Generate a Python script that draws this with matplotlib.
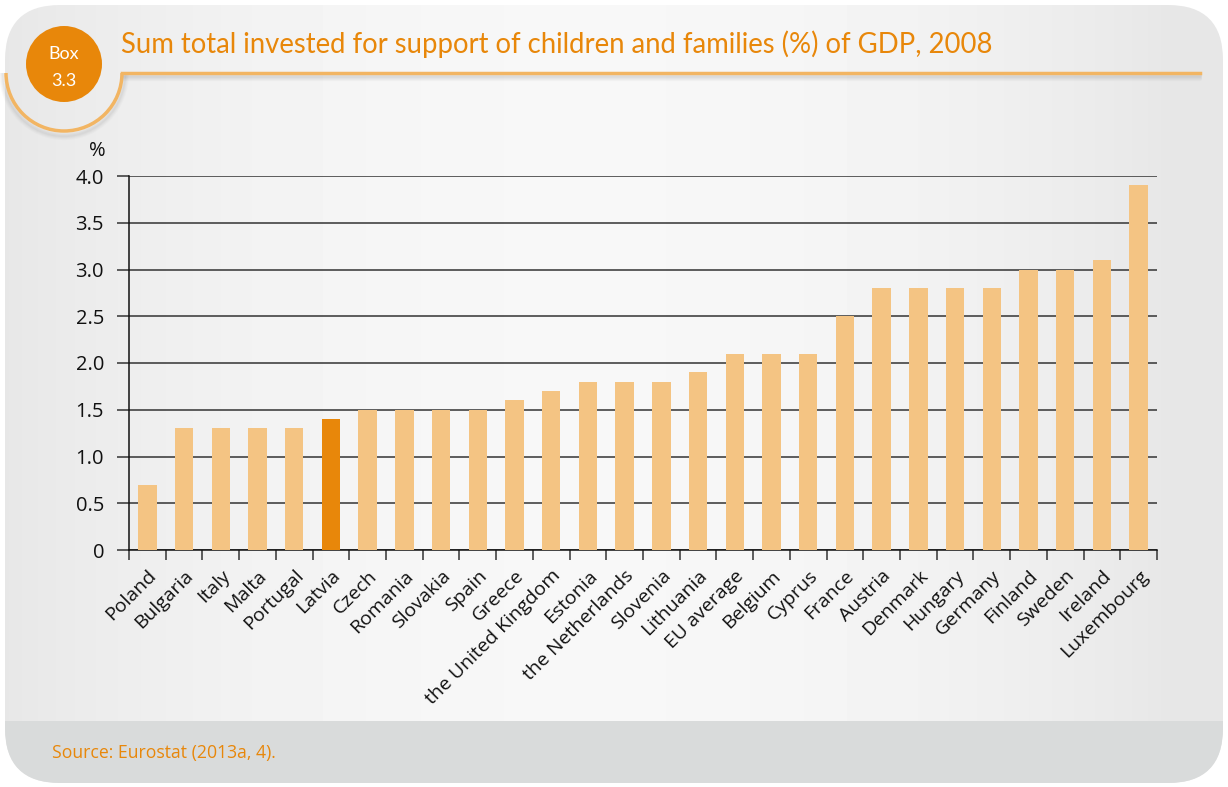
import numpy as np
import matplotlib
matplotlib.use("Agg")
import matplotlib.pyplot as plt
from matplotlib.patches import FancyBboxPatch, Circle, Arc, Rectangle

countries = ["Poland", "Bulgaria", "Italy", "Malta", "Portugal", "Latvia", "Czech",
             "Romania", "Slovakia", "Spain", "Greece", "the United Kingdom", "Estonia",
             "the Netherlands", "Slovenia", "Lithuania", "EU average", "Belgium", "Cyprus",
             "France", "Austria", "Denmark", "Hungary", "Germany", "Finland", "Sweden",
             "Ireland", "Luxembourg"]
values = [0.7, 1.3, 1.3, 1.3, 1.3, 1.4, 1.5, 1.5, 1.5, 1.5, 1.6, 1.7, 1.8, 1.8, 1.8,
          1.9, 2.1, 2.1, 2.1, 2.5, 2.8, 2.8, 2.8, 2.8, 3.0, 3.0, 3.1, 3.9]
highlight = "Latvia"
yticks = [0, 0.5, 1.0, 1.5, 2.0, 2.5, 3.0, 3.5, 4.0]
ytick_labels = ["0", "0.5", "1.0", "1.5", "2.0", "2.5", "3.0", "3.5", "4.0"]

title = "Sum total invested for support of children and families (%) of GDP, 2008"
source = "Source: Eurostat (2013a, 4)."

ORANGE = "#E8870A"
LIGHT = "#F4C483"
W, H = 1228, 787

fig = plt.figure(figsize=(W / 100, H / 100), dpi=100)
fig.patch.set_facecolor("white")

# background card drawn in pixel coordinates
bg = fig.add_axes([0, 0, 1, 1])
bg.set_xlim(0, W)
bg.set_ylim(H, 0)
bg.axis("off")

card = FancyBboxPatch((5, 5), 1218, 778, boxstyle="round,pad=0,rounding_size=55",
                      facecolor="none", edgecolor="none")
bg.add_patch(card)
xs = np.linspace(0, 1, 400)
grad = 0.905 + 0.065 * np.sin(np.pi * np.clip(xs * 1.05, 0, 1)) ** 0.8
img = np.tile(grad, (10, 1))
im = bg.imshow(img, cmap="gray", vmin=0, vmax=1, extent=(5, 1223, 783, 5),
               aspect="auto", zorder=0, interpolation="bilinear")
im.set_clip_path(card)
footer = Rectangle((0, 721), W, 70, facecolor="#d9dbdb", edgecolor="none", zorder=1)
bg.add_patch(footer)
footer.set_clip_path(card)

# header line with soft shadow
for k, a in enumerate([0.05, 0.05, 0.06, 0.07, 0.08]):
    bg.plot([122, 1200], [74 + 5 - k, 74 + 5 - k], color="#888888", lw=3, alpha=a,
            solid_capstyle="round", zorder=2)
bg.plot([122, 1200], [73, 73], color="#F2B563", lw=2.5, zorder=3)

# halo arc around the box badge
for k, a in enumerate([0.04, 0.05, 0.06, 0.07]):
    bg.add_patch(Arc((64, 73), 118 + 2 * (4 - k), 118 + 2 * (4 - k) + 4, theta1=0,
                     theta2=180, color="#888888", lw=3, alpha=a, zorder=2))
bg.add_patch(Arc((64, 73), 116, 116, theta1=0, theta2=180, color="#F2B563", lw=2.5,
                 zorder=3))
bg.add_patch(Circle((64, 64), 38, facecolor=ORANGE, edgecolor="none", zorder=4))
bg.text(64, 54, "Box", ha="center", va="center", color="white", fontsize=13,
        family="Lato", zorder=5)
bg.text(64, 81, "3.3", ha="center", va="center", color="white", fontsize=13,
        family="Lato", zorder=5)

bg.text(121, 44, title, ha="left", va="center", color=ORANGE, fontsize=19.8,
        family="Lato")
bg.text(52, 753, source, ha="left", va="center", color=ORANGE, fontsize=12.7,
        family="Open Sans")
bg.text(97, 151, "%", ha="center", va="center", color="#111111", fontsize=14.5,
        family="Open Sans")

# chart
left, right, top, bottom = 129, 1157, 176, 550
ax = fig.add_axes([left / W, 1 - bottom / H, (right - left) / W, (bottom - top) / H])
ax.patch.set_alpha(0)
x = np.arange(len(countries))
colors = [ORANGE if c == highlight else LIGHT for c in countries]
ax.bar(x, values, width=0.5, color=colors, zorder=3)
ax.set_xlim(-0.5, len(countries) - 0.5)
ax.set_ylim(0, 4.0)
ax.set_yticks(yticks)
ax.set_yticklabels(ytick_labels, fontsize=14.5, family="Open Sans", color="#111111")
ax.yaxis.grid(True, color="#333333", lw=1.1, zorder=1)
ax.tick_params(axis="y", length=9, width=1.1, color="#333333", pad=9)
ax.set_xticks(x)
ax.set_xticklabels(countries, rotation=45, ha="right", rotation_mode="anchor",
                   fontsize=14, family="Open Sans", color="#111111")
ax.tick_params(axis="x", which="major", length=0, pad=12)
ax.set_xticks(np.arange(len(countries) + 1) - 0.5, minor=True)
ax.tick_params(axis="x", which="minor", length=7, width=1.1, color="#333333")
for s in ["top", "right"]:
    ax.spines[s].set_visible(False)
ax.spines["left"].set_color("#111111")
ax.spines["bottom"].set_color("#111111")
ax.spines["left"].set_linewidth(1.1)
ax.spines["bottom"].set_linewidth(1.1)

fig.savefig("out.png", dpi=100, facecolor="white")
